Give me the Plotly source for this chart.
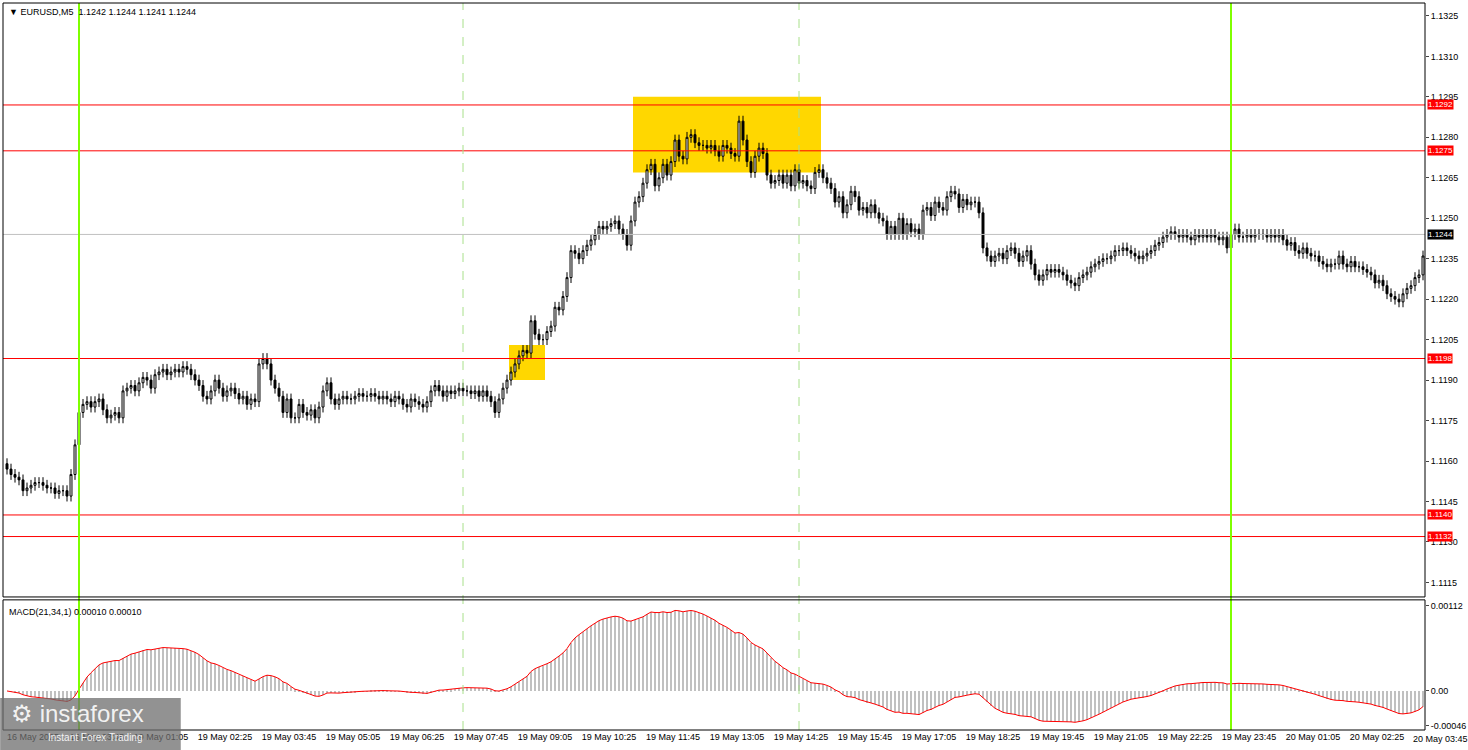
import plotly.graph_objects as go
import pandas as pd

# EURUSD M5 closes, bar 0 = 16 May 22:30, bar 18 = 19 May 00:00
closes = [
    1.1157, 1.1155, 1.1154, 1.1153, 1.1149, 1.1150, 1.1151, 1.1152, 1.1152, 1.1151,
    1.1150, 1.1150, 1.1148, 1.1149, 1.1149, 1.1147, 1.1155, 1.1166,
    1.1178, 1.1181, 1.1182, 1.1180, 1.1182, 1.1183, 1.1179, 1.1176, 1.1177, 1.1178, 1.1176,
    1.1186, 1.1187, 1.1188, 1.1186, 1.1189, 1.1191, 1.1190, 1.1187, 1.1192, 1.1193,
    1.1194, 1.1192, 1.1193, 1.1194, 1.1193, 1.1195, 1.1194, 1.1192, 1.1190, 1.1188,
    1.1184, 1.1183, 1.1186, 1.1190, 1.1187, 1.1184, 1.1186, 1.1187, 1.1185, 1.1183,
    1.1184, 1.1181, 1.1183, 1.1182, 1.1196,
    1.1198, 1.1196, 1.1190, 1.1187, 1.1184, 1.1178, 1.1183, 1.1176, 1.1176, 1.1181,
    1.1178, 1.1177, 1.1179, 1.1176, 1.1180, 1.1186, 1.1189, 1.1183, 1.1181, 1.1183,
    1.1184, 1.1183, 1.1183, 1.1184, 1.1185, 1.1184, 1.1184, 1.1185, 1.1184, 1.1183,
    1.1184, 1.1183, 1.1182, 1.1184, 1.1183, 1.1181, 1.1180, 1.1183, 1.1182, 1.1181,
    1.1180, 1.1182, 1.1186, 1.1188, 1.1186, 1.1184, 1.1186, 1.1185, 1.1186, 1.1187,
    1.1186, 1.1186, 1.1185, 1.1186, 1.1184, 1.1186, 1.1184, 1.1182, 1.1178, 1.1183,
    1.1187, 1.1190, 1.1193, 1.1196, 1.1199, 1.1201, 1.1200, 1.1212, 1.1207, 1.1205,
    1.1205, 1.1208, 1.1210, 1.1217, 1.1216, 1.1221, 1.1228, 1.1238, 1.1237, 1.1235,
    1.1238, 1.1240, 1.1242, 1.1244, 1.1247, 1.1246, 1.1247, 1.1248, 1.1249, 1.1246,
    1.1244, 1.1240, 1.1249, 1.1256, 1.1258, 1.1263, 1.1268, 1.1270, 1.1262, 1.1265,
    1.1270, 1.1266, 1.1271, 1.1279, 1.1273, 1.1272, 1.1280, 1.1281, 1.1278, 1.1277,
    1.1277, 1.1276, 1.1277, 1.1275, 1.1273, 1.1277, 1.1276, 1.1274, 1.1273, 1.1286,
    1.1279, 1.1271, 1.1267, 1.1273, 1.1276, 1.1274, 1.1266, 1.1263, 1.1264, 1.1266,
    1.1263, 1.1266, 1.1262, 1.1268, 1.1263, 1.1264, 1.1262, 1.1261, 1.1267, 1.1268,
    1.1265, 1.1263, 1.1261, 1.1256, 1.1258, 1.1252, 1.1255, 1.1260, 1.1258, 1.1253,
    1.1254, 1.1252, 1.1255, 1.1252, 1.1250, 1.1249, 1.1244, 1.1247, 1.1244, 1.1250,
    1.1244, 1.1248, 1.1245, 1.1246, 1.1244, 1.1253, 1.1254, 1.1251, 1.1256, 1.1254,
    1.1253, 1.1258, 1.1260, 1.1259, 1.1254, 1.1257, 1.1255, 1.1256, 1.1256, 1.1252,
    1.1239, 1.1236, 1.1234, 1.1236, 1.1237, 1.1235, 1.1238, 1.1239, 1.1237, 1.1234,
    1.1236, 1.1238, 1.1233, 1.1229, 1.1227, 1.1229, 1.1231, 1.1230, 1.1231, 1.1230,
    1.1229, 1.1227, 1.1226, 1.1225, 1.1228, 1.1229, 1.1230, 1.1232, 1.1233, 1.1234,
    1.1235, 1.1235, 1.1236, 1.1238, 1.1238, 1.1239, 1.1238, 1.1237, 1.1236, 1.1235,
    1.1236, 1.1237, 1.1238, 1.1240, 1.1241, 1.1243, 1.1244, 1.1245, 1.1244, 1.1243,
    1.1244, 1.1243, 1.1242, 1.1244, 1.1243, 1.1244, 1.1243, 1.1244, 1.1243, 1.1242,
    1.1243, 1.1239, 1.1244, 1.1246, 1.1243, 1.1243, 1.1244, 1.1243, 1.1244, 1.1244,
    1.1244, 1.1243, 1.1244, 1.1243, 1.1244, 1.1242, 1.1240, 1.1241, 1.1238, 1.1237,
    1.1239, 1.1237, 1.1236, 1.1236, 1.1234, 1.1233, 1.1232, 1.1233, 1.1233, 1.1236,
    1.1233, 1.1232, 1.1234, 1.1232, 1.1232, 1.1231, 1.1230, 1.1229, 1.1226, 1.1227,
    1.1225, 1.1222, 1.1221, 1.1220, 1.1219, 1.1222, 1.1224, 1.1225, 1.1228, 1.1229,
    1.1236,
]
first_open = 1.1159

red_levels = [1.1292, 1.1275, 1.1198, 1.1140, 1.1132]
bid_level = 1.1244
green_bars = [18, 306]
dashed_bars = [114, 198]
# yellow zones: (bar from, bar to, price low, price high)
zones = [(126, 134, 1.1190, 1.1203), (157, 203, 1.1267, 1.1295)]

tick_bars = [-1, 15] + [31 + 16 * k for k in range(21)]
tick_text = ['16 May 2025', '16 May 23:45',
             '19 May 01:05', '19 May 02:25', '19 May 03:45', '19 May 05:05', '19 May 06:25',
             '19 May 07:45', '19 May 09:05', '19 May 10:25', '19 May 11:45', '19 May 13:05',
             '19 May 14:25', '19 May 15:45', '19 May 17:05', '19 May 18:25', '19 May 19:45',
             '19 May 21:05', '19 May 22:25', '19 May 23:45', '20 May 01:05', '20 May 02:25',
             '20 May 03:45']
price_ticks = [1.1115 + 0.0015 * k for k in range(15)]

df = pd.DataFrame({'close': closes})
df['open'] = df.close.shift(1).fillna(first_open)
df['high'] = df[['open', 'close']].max(axis=1) + 0.0002
df['low'] = df[['open', 'close']].min(axis=1) - 0.0002
df['macd'] = df.close.ewm(span=21, adjust=False).mean() - df.close.ewm(span=34, adjust=False).mean()
bars = list(range(len(df)))

fig = go.Figure()

fig.add_trace(go.Candlestick(
    x=bars, open=df.open, high=df.high, low=df.low, close=df.close,
    increasing=dict(line=dict(color='black', width=1), fillcolor='white'),
    decreasing=dict(line=dict(color='black', width=1), fillcolor='black'),
    whiskerwidth=0, xaxis='x', yaxis='y', showlegend=False
))
fig.add_trace(go.Bar(
    x=bars, y=df.macd, marker=dict(color='#c0c0c0', line=dict(width=0)),
    width=0.5, xaxis='x', yaxis='y2', showlegend=False
))
fig.add_trace(go.Scatter(
    x=bars, y=df.macd, mode='lines', line=dict(color='red', width=1),
    xaxis='x', yaxis='y2', showlegend=False
))

for b0, b1, lo, hi in zones:
    fig.add_shape(type='rect', x0=b0 - 0.5, x1=b1 + 0.5, y0=lo, y1=hi, xref='x', yref='y',
                  fillcolor='#ffd700', line=dict(width=0), layer='below')
for lv in red_levels:
    fig.add_shape(type='line', x0=0, x1=1, xref='paper', y0=lv, y1=lv, yref='y',
                  line=dict(color='red', width=1))
    fig.add_annotation(x=1, xref='paper', y=lv, yref='y', text=f'{lv:.4f}', showarrow=False,
                       xanchor='left', bgcolor='red', font=dict(color='white', size=8),
                       borderpad=0, xshift=2)
fig.add_shape(type='line', x0=0, x1=1, xref='paper', y0=bid_level, y1=bid_level, yref='y',
              line=dict(color='#c0c0c0', width=1))
fig.add_annotation(x=1, xref='paper', y=bid_level, yref='y', text=f'{bid_level:.4f}',
                   showarrow=False, xanchor='left', bgcolor='black',
                   font=dict(color='white', size=8), borderpad=0, xshift=2)
for b in green_bars:
    fig.add_shape(type='line', x0=b, x1=b, xref='x', y0=0, y1=1, yref='paper',
                  line=dict(color='#7fff00', width=2))
for b in dashed_bars:
    fig.add_shape(type='line', x0=b, x1=b, xref='x', y0=0, y1=1, yref='paper',
                  line=dict(color='#a8e08a', width=1, dash='dash'))

# panel frames
fig.add_shape(type='rect', x0=0, x1=1, y0=0.183, y1=1, xref='paper', yref='paper',
              line=dict(color='black', width=1))
fig.add_shape(type='rect', x0=0, x1=1, y0=0, y1=0.179, xref='paper', yref='paper',
              line=dict(color='black', width=1))

fig.add_annotation(x=0.003, y=0.997, xref='paper', yref='paper', xanchor='left', yanchor='top',
                   text='▼ EURUSD,M5  1.1242 1.1244 1.1241 1.1244', showarrow=False,
                   font=dict(size=9, color='black'))
fig.add_annotation(x=0.003, y=0.172, xref='paper', yref='paper', xanchor='left', yanchor='top',
                   text='MACD(21,34,1) 0.00010 0.00010', showarrow=False,
                   font=dict(size=9, color='black'))
# last time label runs past the plot edge, so draw it as text
fig.add_annotation(x=tick_bars[-1], xref='x', y=0, yref='paper', yanchor='top', xanchor='left',
                   text=tick_text[-1], showarrow=False, yshift=-2, font=dict(size=9))

# watermark
fig.add_shape(type='rect', x0=-0.002, x1=0.125, y0=-0.03, y1=0.044, xref='paper', yref='paper',
              fillcolor='rgba(110,110,110,0.75)', line=dict(width=0))
fig.add_annotation(x=0.004, y=0.044, xref='paper', yref='paper', xanchor='left', yanchor='top',
                   text='⚙ instaforex', showarrow=False,
                   font=dict(size=24, color='rgba(255,255,255,0.9)'))
fig.add_annotation(x=0.03, y=0.0, xref='paper', yref='paper', xanchor='left', yanchor='top',
                   text='Instant Forex Trading', showarrow=False,
                   font=dict(size=10, color='rgba(255,255,255,0.9)'))

fig.update_layout(
    width=1468, height=750,
    margin=dict(l=3, r=43, t=3, b=20, autoexpand=False),
    paper_bgcolor='white', plot_bgcolor='white',
    font=dict(family='Liberation Sans', size=9, color='black'),
    bargap=0,
    xaxis=dict(range=[-1, 354.5], tickvals=[b + 7.5 for b in tick_bars[:-1]],
               ticktext=tick_text[:-1],
               showgrid=False, zeroline=False, rangeslider=dict(visible=False),
               ticks='', tickangle=0, tickfont=dict(size=9), anchor='y2', automargin=False),
    yaxis=dict(domain=[0.183, 1], range=[1.11096, 1.13298], side='right', tickvals=price_ticks,
               tickformat='.4f', showgrid=False, zeroline=False, ticks='outside', ticklen=3,
               tickfont=dict(size=9), automargin=False),
    yaxis2=dict(domain=[0, 0.179], range=[-0.000514, 0.0012], side='right',
                tickvals=[0.00112, 0.0, -0.00046], ticktext=['0.00112', '0.00', '-0.00046'],
                showgrid=False, zeroline=False, ticks='outside', ticklen=3,
                tickfont=dict(size=9), automargin=False),
)

fig.write_html("out.html", config=dict(displayModeBar=False),
               post_script="document.body.style.margin='0';")
